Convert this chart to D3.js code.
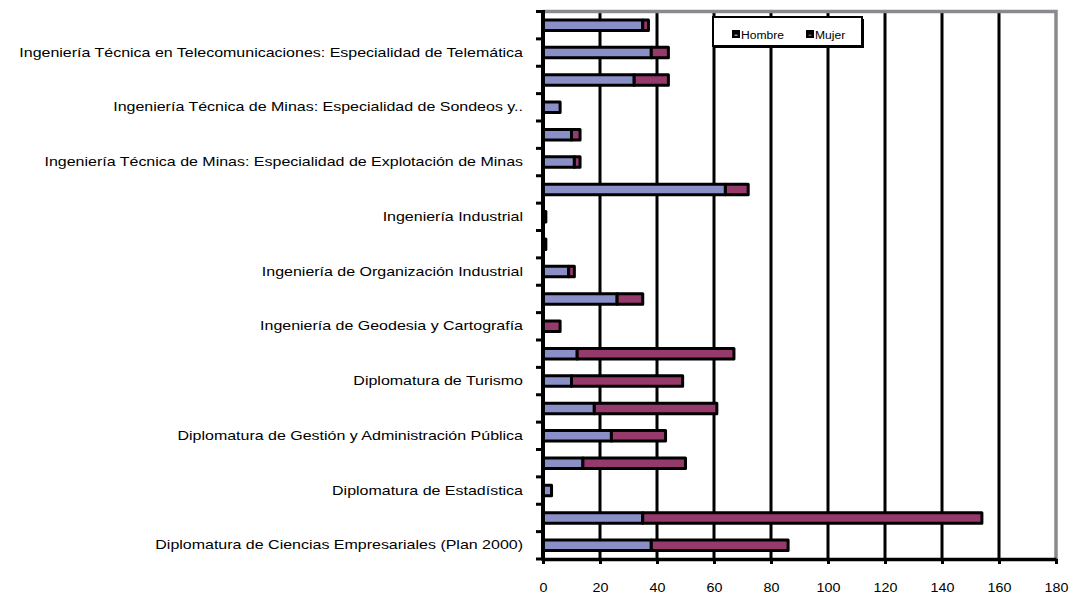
<!DOCTYPE html>
<html>
<head>
<meta charset="utf-8">
<script src="https://cdn.jsdelivr.net/npm/d3@7"></script>
<style>
  body { margin: 0; background: #fff; }
  svg { display: block; font-family: "Liberation Sans", Arial, sans-serif; }
</style>
</head>
<body>
<svg id="canvas"></svg>
<script>
// categories from bottom to top (only every other one is labelled on the chart)
const categories = [
	'Diplomatura de Ciencias Empresariales (Plan 2000)',
	'Diplomatura de Enfermería',
	'Diplomatura de Estadística',
	'Diplomatura de Fisioterapia',
	'Diplomatura de Gestión y Administración Pública',
	'Diplomatura de Relaciones Laborales',
	'Diplomatura de Turismo',
	'Diplomatura en Trabajo Social',
	'Ingeniería de Geodesia y Cartografía',
	'Ingeniería de Minas',
	'Ingeniería de Organización Industrial',
	'Ingeniería de Telecomunicación',
	'Ingeniería Industrial',
	'Ingeniería Técnica de Minas: Especialidad de Combustibles y Explosivos',
	'Ingeniería Técnica de Minas: Especialidad de Explotación de Minas',
	'Ingeniería Técnica de Minas: Especialidad de Mineralurgia y Metalurgia',
	'Ingeniería Técnica de Minas: Especialidad de Sondeos y..',
	'Ingeniería Técnica en Telecomunicaciones: Especialidad de Sistemas Electrónicos',
	'Ingeniería Técnica en Telecomunicaciones: Especialidad de Telemática',
	'Ingeniería Técnica Industrial: Especialidad de Electricidad'
];
const hombre = [38, 35, 3, 14, 24, 18, 10, 12, 0, 26, 9, 1, 1, 64, 11, 10, 6, 32, 38, 35];
const mujer = [48, 119, 0, 36, 19, 43, 39, 55, 6, 9, 2, 0, 0, 8, 2, 3, 0, 12, 6, 2];
const seriesNames = ['Hombre', 'Mujer'];
const xTicks = [0, 20, 40, 60, 80, 100, 120, 140, 160, 180];

const w = 1075;
const h = 596;
const colors = { Hombre: '#8b8fc8', Mujer: '#96396b' };

const svg = d3.select('#canvas').attr('width', w).attr('height', h);

const table = categories.map((c, i) => ({ cat: c, Hombre: hombre[i], Mujer: mujer[i] }));
const stacked = d3.stack().keys(seriesNames)(table);

const x = d3.scaleLinear().domain([0, 180]).range([543, 1056]);
const y = d3.scaleBand().domain(categories.slice().reverse()).range([11.5, 559]);
const plotTop = y.range()[0];
const plotBottom = y.range()[1];

// gridlines
svg.append('g')
	.selectAll('line')
	.data(xTicks.slice(1, -1))
	.enter()
	.append('line')
	.attr('x1', (d) => x(d))
	.attr('x2', (d) => x(d))
	.attr('y1', plotTop)
	.attr('y2', plotBottom)
	.attr('stroke', '#000')
	.attr('stroke-width', 3);

// grey frame top and right
svg.append('path')
	.attr('d', 'M' + x(0) + ',' + plotTop + 'H' + x(180) + 'V' + plotBottom)
	.attr('fill', 'none')
	.attr('stroke', '#8a8a8e')
	.attr('stroke-width', 3.5);

// bars
const barH = 10.5;
svg.append('g')
	.selectAll('g')
	.data(stacked)
	.enter()
	.append('g')
	.attr('fill', (s) => colors[s.key])
	.selectAll('rect')
	.data((s) => s.filter((d) => d[1] - d[0] > 0))
	.enter()
	.append('rect')
	.attr('x', (d) => x(d[0]))
	.attr('width', (d) => x(d[1]) - x(d[0]))
	.attr('y', (d) => y(d.data.cat) + y.bandwidth() / 2 - barH / 2)
	.attr('height', barH)
	.attr('stroke', '#000')
	.attr('stroke-width', 3)
	.attr('stroke-linejoin', 'round');

// y axis labels (every other category)
const labelScale = 1.23;
const yAxis = d3.axisLeft(y)
	.tickSize(0)
	.tickFormat((d) => (categories.indexOf(d) % 2 === 0 ? d : ''));
const gy = svg.append('g').attr('transform', 'translate(' + x(0) + ',0)').call(yAxis);
gy.select('.domain').remove();
gy.selectAll('text')
	.attr('x', -20 / labelScale)
	.attr('transform', 'scale(' + labelScale + ',1)')
	.style('font-size', '13px')
	.style('font-family', '"Liberation Sans", Arial, sans-serif')
	.attr('fill', '#000');

// y axis line and boundary ticks
const boundaries = y.domain().map((d) => y(d)).concat([plotBottom]);
svg.append('g')
	.selectAll('line')
	.data(boundaries)
	.enter()
	.append('line')
	.attr('x1', x(0) - 7)
	.attr('x2', x(0))
	.attr('y1', (d) => d)
	.attr('y2', (d) => d)
	.attr('stroke', '#000')
	.attr('stroke-width', 3);
svg.append('line')
	.attr('x1', x(0))
	.attr('x2', x(0))
	.attr('y1', plotTop - 1.5)
	.attr('y2', plotBottom + 1.5)
	.attr('stroke', '#000')
	.attr('stroke-width', 4);

// x axis
const xAxis = d3.axisBottom(x).tickValues(xTicks).tickSize(5).tickPadding(19).tickSizeOuter(0);
const gx = svg.append('g').attr('transform', 'translate(0,' + plotBottom + ')').call(xAxis);
gx.select('.domain').attr('stroke-width', 3.5);
gx.selectAll('.tick line').attr('stroke-width', 3);
gx.selectAll('text')
	.attr('transform', 'scale(1.1,1)')
	.style('font-size', '13px')
	.style('font-family', '"Liberation Sans", Arial, sans-serif')
	.attr('fill', '#000');

// legend
const legend = svg.append('g').attr('transform', 'translate(713,17)');
legend.append('rect')
	.attr('x', 2).attr('y', 2)
	.attr('width', 149).attr('height', 29)
	.attr('fill', '#000');
legend.append('rect')
	.attr('x', 0).attr('y', 0)
	.attr('width', 149).attr('height', 29)
	.attr('fill', '#fff')
	.attr('stroke', '#000')
	.attr('stroke-width', 2);
const items = legend.selectAll('.item')
	.data(seriesNames)
	.enter()
	.append('g')
	.attr('class', 'item')
	.attr('transform', (d, i) => 'translate(' + (19 + i * 74) + ',13)');
items.append('rect')
	.attr('width', 8).attr('height', 8)
	.attr('fill', '#000');
items.append('rect')
	.attr('x', 2.5).attr('y', 4.5)
	.attr('width', 3).attr('height', 1.5)
	.attr('fill', (d) => colors[d]);
items.append('text')
	.attr('x', 9 / 1.1)
	.attr('y', 9)
	.attr('transform', 'scale(1.1,1)')
	.style('font-size', '11px')
	.attr('fill', '#000')
	.text((d) => d);
</script>
</body>
</html>
